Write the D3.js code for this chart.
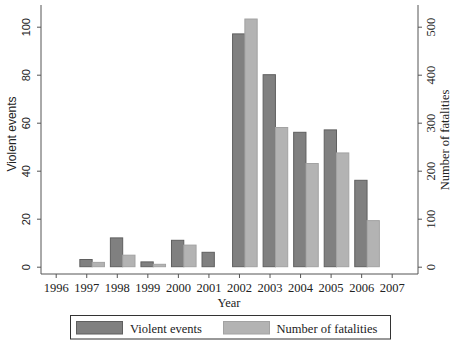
<!DOCTYPE html>
<html>
<head>
<meta charset="utf-8">
<script src="https://cdn.jsdelivr.net/npm/d3@7"></script>
<style>
  body { margin: 0; background: #fff; }
  svg { display: block; }
</style>
</head>
<body>
<script>
// data
var years = [1997, 1998, 1999, 2000, 2001, 2002, 2003, 2004, 2005, 2006];
var violentEvents = [3, 12, 2, 11, 6, 97, 80, 56, 57, 36];
var fatalities = [9, 24, 5, 45, 0, 516, 290, 215, 237, 96];
var yearTicks = d3.range(1996, 2008);
var leftTicks = [0, 20, 40, 60, 80, 100];
var rightTicks = [0, 100, 200, 300, 400, 500];
var seriesNames = ["Violent events", "Number of fatalities"];

var W = 459, H = 343;
var serif = "'Liberation Serif', 'Times New Roman', serif";
var sans = "'Liberation Sans', Arial, sans-serif";
var axisCol = "#555";

var fills = { "Violent events": "#808080", "Number of fatalities": "#b3b3b3" };
var strokes = { "Violent events": "#5f5f5f", "Number of fatalities": "#a2a2a2" };

var svg = d3.select("body").append("svg").attr("width", W).attr("height", H);
svg.append("rect").attr("width", W).attr("height", H).attr("fill", "#fff");

var x = d3.scaleLinear().domain([1996, 2007]).range([55.7, 391.7]);
var yL = d3.scaleLinear().domain([0, 100]).range([266.7, 26.7]);
var yR = d3.scaleLinear().domain([0, 500]).range([266.7, 26.7]);
// offset of the two bars around each year tick
var inner = d3.scaleBand().domain(seriesNames).range([-6.4, 18.2]).padding(0);

var plotLeft = 41, plotRight = 418, plotTop = 5, plotBottom = 274;

// bars
var rows = years.map(function(d, i){ return { year: d, ve: violentEvents[i], fat: fatalities[i] }; });

svg.append("g").selectAll("rect").data(rows.filter(function(d){ return d.ve > 0; })).join("rect")
  .attr("x", function(d){ return x(d.year) + inner("Violent events"); })
  .attr("y", function(d){ return yL(d.ve); })
  .attr("width", inner.bandwidth())
  .attr("height", function(d){ return yL(0) - yL(d.ve); })
  .attr("fill", fills["Violent events"]).attr("stroke", strokes["Violent events"]).attr("stroke-width", 1);

svg.append("g").selectAll("rect").data(rows.filter(function(d){ return d.fat > 0; })).join("rect")
  .attr("x", function(d){ return x(d.year) + inner("Number of fatalities"); })
  .attr("y", function(d){ return yR(d.fat); })
  .attr("width", inner.bandwidth())
  .attr("height", function(d){ return yR(0) - yR(d.fat); })
  .attr("fill", fills["Number of fatalities"]).attr("stroke", strokes["Number of fatalities"]).attr("stroke-width", 1);

// left axis
var gL = svg.append("g").attr("transform", "translate(" + plotLeft + ",0)");
gL.call(d3.axisLeft(yL).tickValues(leftTicks).tickSize(4).tickPadding(3));
gL.select(".domain").attr("d", "M0," + plotTop + "V" + plotBottom);
gL.selectAll("line").attr("stroke", axisCol);
gL.selectAll(".domain").attr("stroke", axisCol);
gL.selectAll(".tick text")
  .attr("font-family", sans).attr("font-size", 11).attr("fill", "#222")
  .attr("text-anchor", "middle")
  .attr("transform", "rotate(-90) translate(0,-15)").attr("x", 0).attr("y", 0).attr("dy", "0.35em");

// right axis
var gR = svg.append("g").attr("transform", "translate(" + plotRight + ",0)");
gR.call(d3.axisRight(yR).tickValues(rightTicks).tickSize(4).tickPadding(3));
gR.select(".domain").attr("d", "M0," + plotTop + "V" + plotBottom);
gR.selectAll("line").attr("stroke", axisCol);
gR.selectAll(".domain").attr("stroke", axisCol);
gR.selectAll(".tick text")
  .attr("font-family", serif).attr("font-size", 12.5).attr("fill", "#222")
  .attr("text-anchor", "middle")
  .attr("transform", "rotate(-90) translate(0,13)").attr("x", 0).attr("y", 0).attr("dy", "0.35em");

// bottom axis
var gB = svg.append("g").attr("transform", "translate(0," + plotBottom + ")");
gB.call(d3.axisBottom(x).tickValues(yearTicks).tickFormat(d3.format("d")).tickSize(4).tickPadding(5));
gB.select(".domain").attr("d", "M" + plotLeft + ",0H" + plotRight);
gB.selectAll("line").attr("stroke", axisCol);
gB.selectAll(".domain").attr("stroke", axisCol);
gB.selectAll("text").attr("font-family", serif).attr("font-size", 12.5).attr("fill", "#222");

// axis titles
svg.append("text").text("Violent events")
  .attr("transform", "translate(12,134) rotate(-90)")
  .attr("text-anchor", "middle").attr("dy", "0.35em")
  .attr("font-family", sans).attr("font-size", 12).attr("fill", "#222");

svg.append("text").text("Number of fatalities")
  .attr("transform", "translate(445,140) rotate(-90)")
  .attr("text-anchor", "middle").attr("dy", "0.35em")
  .attr("font-family", serif).attr("font-size", 12.5).attr("fill", "#222");

svg.append("text").text("Year")
  .attr("x", 229).attr("y", 307)
  .attr("text-anchor", "middle")
  .attr("font-family", serif).attr("font-size", 12.5).attr("fill", "#222");

// legend
var leg = svg.append("g");
leg.append("rect").attr("x", 70.5).attr("y", 315.5).attr("width", 320).attr("height", 23.5)
  .attr("fill", "#fff").attr("stroke", "#333").attr("stroke-width", 1);
var legX = [76, 223];
var legTextX = [130, 276.5];
var legLen = [72, 101];
leg.selectAll("rect.sw").data(seriesNames).join("rect").attr("class", "sw")
  .attr("x", function(d, i){ return legX[i] + 0.5; }).attr("y", 321.5).attr("width", 46).attr("height", 12.5)
  .attr("fill", function(d){ return fills[d]; }).attr("stroke", function(d){ return strokes[d]; });
leg.selectAll("text").data(seriesNames).join("text")
  .text(function(d){ return d; })
  .attr("font-family", serif).attr("font-size", 13).attr("fill", "#222")
  .each(function(d, i){
    var w = this.getComputedTextLength();
    var sx = w > 0 ? legLen[i] / w : 1;
    d3.select(this).attr("transform", "translate(" + legTextX[i] + ",332.5) scale(" + sx + ",1)");
  });
</script>
</body>
</html>
